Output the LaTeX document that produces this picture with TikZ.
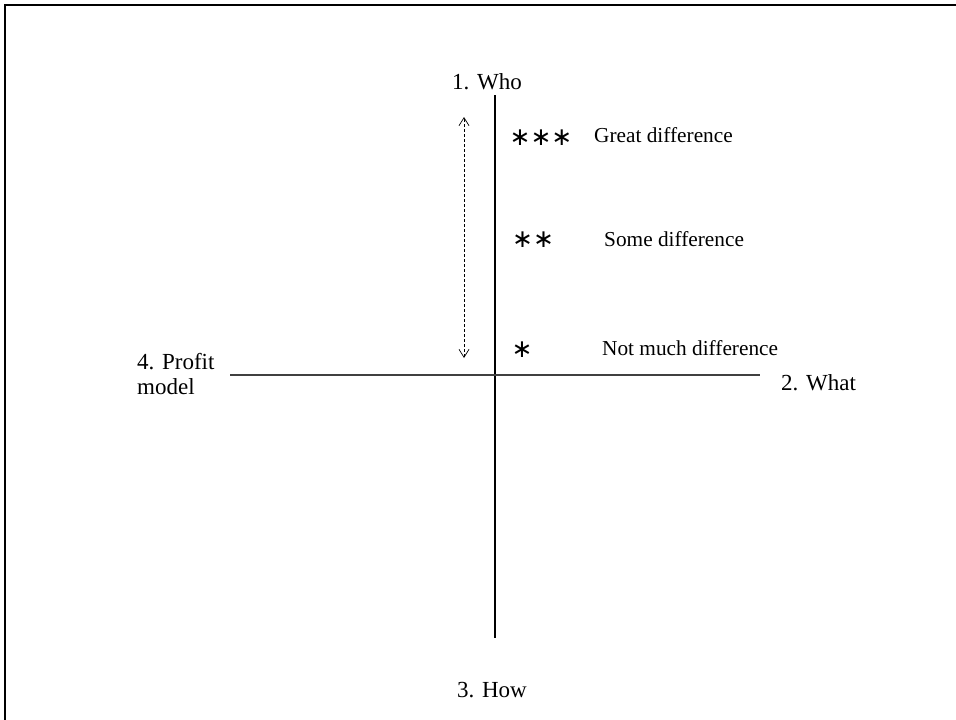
\documentclass[tikz,border=0pt]{standalone}
\usepackage{fontspec}
\setmainfont{Liberation Serif}
\newfontfamily\symfont{DejaVu Sans}
\usetikzlibrary{arrows.meta}
\begin{document}
\begin{tikzpicture}[x=1pt,y=-1pt,
  lbl/.style={font=\fontsize{23}{25}\selectfont, inner sep=0pt},
  diff/.style={font=\fontsize{21.3}{24}\selectfont, inner sep=0pt, anchor=base west},
  stars/.style={font=\symfont\fontsize{25}{26}\selectfont, inner sep=0pt},
  axis/.style={line width=1.2pt},
  frame/.style={line width=2pt},
  span/.style={dashed, dash pattern=on 3pt off 2pt, line width=0.7pt,
    {Straight Barb[length=8pt,width=10pt]}-{Straight Barb[length=8pt,width=10pt]}},
]
\useasboundingbox (0,0) rectangle (956,720);
\coordinate (fbl) at (5,720);
\coordinate (ftl) at (5,5);
\coordinate (ftr) at (956,5);
\draw[frame] (fbl) -- (ftl) -- (ftr);

\coordinate (vtop) at (495,95);
\coordinate (vbot) at (495,638);
\coordinate (hl) at (230,375);
\coordinate (hr) at (760,375);
\draw[axis] (vtop) -- (vbot);
\draw[axis, black!75] (hl) -- (hr);

\coordinate (au) at (464,117);
\coordinate (ad) at (464,358);
\draw[span] (ad) -- (au);

\node[lbl, anchor=base] (who) at (487,89) {1. Who};
\node[lbl, anchor=base west] (what) at (781,390) {2. What};
\node[lbl, anchor=base] (how) at (492,697) {3. How};
\node[lbl, anchor=north west, align=left] (profit) at (137,353) {4. Profit\\model};

\node[stars] (s3) at (541,138) {∗∗∗};
\node[stars] (s2) at (533,240) {∗∗};
\node[stars] (s1) at (522,350) {∗};

\node[diff] (d3) at (594,142) {Great difference};
\node[diff] (d2) at (604,246) {Some difference};
\node[diff] (d1) at (602,355) {Not much difference};
\end{tikzpicture}
\end{document}
